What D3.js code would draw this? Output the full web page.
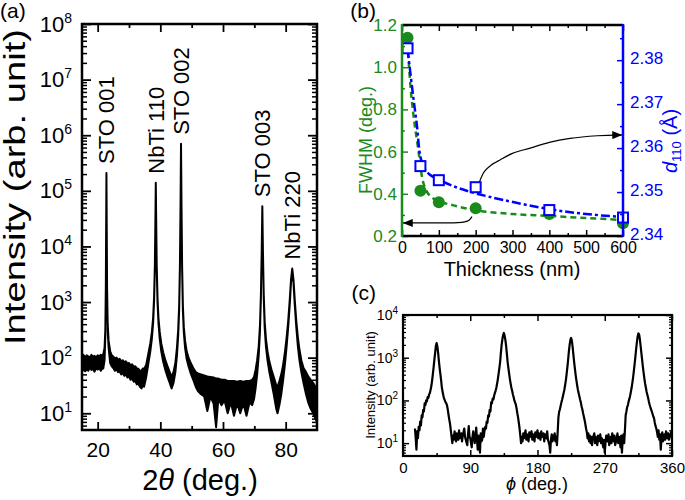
<!DOCTYPE html>
<html>
<head>
<meta charset="utf-8">
<script src="https://cdnjs.cloudflare.com/ajax/libs/d3/7.8.5/d3.min.js"></script>
<style>
body { margin: 0; background: #fff; }
text { font-family: "Liberation Sans", Arial, sans-serif; }
</style>
</head>
<body>
<div id="wrapper"></div>
<script>
// ---------- (a) XRD theta-2theta scan: noisy trace kept as low / high envelope ----------
const xrdTheta = [
  15, 15.5, 16, 16.5, 17, 17.5, 18, 18.5, 19, 19.5, 20, 20.5, 21, 21.5, 21.8,
  22.2, 22.45, 22.6, 22.72, 22.8, 22.88, 23.0, 23.2, 23.5, 24.0, 24.5,
  25, 25.5, 26, 26.5, 27, 27.5, 28, 28.5, 29, 29.5, 30, 30.5, 31, 31.5, 32, 32.5, 33, 33.5, 34, 34.4, 34.8,
  35.5, 36.2, 36.8, 37.3, 37.7, 38.0, 38.25, 38.45, 38.55, 38.65, 38.85, 39.1, 39.4, 39.8, 40.3, 40.9, 41.6, 42.3, 43.0, 43.6,
  44.2, 44.8, 45.3, 45.7, 46.0, 46.25, 46.45, 46.6, 46.75, 46.95, 47.2, 47.5, 47.9, 48.4, 49.0, 49.7, 50.5, 51.3,
  52, 53, 54, 55, 56, 57, 57.8, 58.5, 59.5, 60.5, 61.5, 62.5, 63.5, 64.5, 65.5, 66.5, 67.5, 68.5, 69.3, 69.9,
  70.4, 70.9, 71.4, 71.8, 72.1, 72.35, 72.55, 72.75, 73.0, 73.3, 73.7, 74.2, 74.8, 75.5, 76.2, 77.0, 77.4,
  78.0, 78.6, 79.2, 79.8, 80.3, 80.8, 81.3, 81.7, 82.1, 82.5, 82.9, 83.4, 83.9, 84.4, 85.0, 85.7, 86.5, 87.3, 88.0, 88.8, 89.5, 90
];
const xrdLo = [
  60, 66, 57, 64, 58, 67, 60, 63, 56, 65, 61, 66, 58, 64, 64,
  90, 250, 1500, 30000, 210000, 30000, 1500, 300, 150, 80, 70,
  65, 58, 62, 55, 57, 50, 53, 47, 50, 44, 46, 40, 42, 37, 38, 33, 34, 30, 28, 32, 30,
  45, 80, 130, 220, 420, 1000, 4000, 40000, 140000, 40000, 4000, 1000, 420, 220, 130, 85, 60, 45, 35, 28,
  35, 55, 110, 250, 700, 4000, 60000, 700000, 60000, 4000, 700, 280, 150, 95, 70, 52, 40, 30,
  25, 22, 20, 11, 20, 15, 5.6, 18, 14, 17, 10, 16, 9, 15, 10, 15, 9, 16, 14, 18,
  28, 50, 110, 300, 1200, 8000, 53000, 8000, 1200, 350, 160, 90, 55, 35, 22, 12, 10,
  14, 22, 40, 80, 160, 350, 900, 2200, 4000, 2200, 900, 350, 160, 90, 55, 35, 22, 15, 12, 10, 8, 7
];
const xrdHi = [
  104, 112, 100, 110, 106, 98, 112, 104, 108, 100, 110, 104, 113, 106, 115,
  150, 320, 1800, 30000, 210000, 30000, 1800, 400, 200, 130, 110,
  105, 96, 100, 92, 95, 86, 90, 82, 86, 78, 80, 72, 76, 68, 70, 64, 63, 58, 58, 64, 62,
  75, 120, 180, 290, 520, 1200, 4500, 40000, 140000, 40000, 4500, 1200, 520, 290, 180, 125, 90, 70, 55, 45,
  55, 80, 150, 320, 850, 4500, 60000, 700000, 60000, 4500, 850, 350, 200, 130, 100, 80, 65, 55,
  52, 50, 48, 46, 45, 44, 42, 42, 40, 40, 38, 38, 38, 37, 38, 37, 38, 38, 40, 45,
  60, 90, 160, 380, 1400, 8000, 53000, 8000, 1400, 450, 220, 130, 85, 60, 45, 32, 30,
  38, 50, 75, 130, 230, 450, 1100, 2500, 4000, 2500, 1100, 450, 230, 140, 90, 65, 55, 45, 40, 35, 30, 28
];
const peakNames = ["STO 001", "NbTi 110", "STO 002", "STO 003", "NbTi 220"];
const peakTheta = [22.8, 38.55, 46.6, 72.55, 82.1];
const peakTop = [2.1e5, 1.4e5, 7e5, 5.3e4, 4e3];
const thetaTicks = [20, 40, 60, 80];
const thetaMinor = [30, 50, 70];
const decadesA = [1e1, 1e2, 1e3, 1e4, 1e5, 1e6, 1e7, 1e8];

// ---------- (b) FWHM and d110 versus film thickness ----------
const thickness = [15, 50, 100, 200, 400, 600];
const fwhm = [1.14, 0.415, 0.36, 0.331, 0.304, 0.26];
const d110 = [2.3827, 2.3559, 2.3527, 2.3511, 2.3459, 2.3442];
const fwhmFitT = [15, 20, 25, 30, 35, 40, 45, 50, 55, 62, 76, 100, 140, 200, 300, 400, 500, 600];
const fwhmFitV = [1.12, 0.98, 0.87, 0.79, 0.72, 0.66, 0.6, 0.53, 0.475, 0.43, 0.39, 0.365, 0.345, 0.322, 0.304, 0.295, 0.285, 0.276];
const dFitT = [15, 20, 30, 40, 50, 60, 75, 100, 150, 200, 275, 400, 500, 600];
const dFitV = [2.3825, 2.379, 2.372, 2.3655, 2.358, 2.3555, 2.354, 2.3528, 2.351, 2.3497, 2.3482, 2.3461, 2.345, 2.3443];
const arrowLowT = [190, 182, 170, 150, 120, 60, 2];
const arrowLowV = [0.292, 0.275, 0.267, 0.263, 0.262, 0.262, 0.262];
const arrowUpT = [210, 216, 225, 240, 266, 300, 348, 400, 456, 530, 598];
const arrowUpV = [2.3522, 2.3535, 2.3548, 2.356, 2.3573, 2.3588, 2.36, 2.3613, 2.3622, 2.3628, 2.363];
const thickTicks = [0, 100, 200, 300, 400, 500, 600];
const thickMinor = [50, 150, 250, 350, 450, 550];
const fwhmTicks = [0.2, 0.4, 0.6, 0.8, 1.0, 1.2];
const fwhmMinor = [0.3, 0.5, 0.7, 0.9, 1.1];
const dTicks = [2.34, 2.35, 2.36, 2.37, 2.38];
const dMinor = [2.345, 2.355, 2.365, 2.375, 2.385];

// ---------- (c) phi scan ----------
const phiDeg = [
  16, 17, 18, 19, 20, 21, 22, 23, 24, 25,
  26, 27, 28, 29, 30, 31, 32, 33, 34, 35,
  36, 37, 38, 39, 40, 41, 42, 43, 44, 45,
  46, 47, 48, 49, 50, 51, 52, 53, 54, 55,
  56, 57, 58, 59, 60, 61, 62, 63, 64, 65, 66,
  67, 68, 69, 70, 71, 72, 74, 75, 76, 78,
  79, 80, 82, 83, 84, 86, 87, 88, 89, 90,
  92, 93, 94, 96, 97, 98, 99, 100, 101, 102,
  103, 104, 105, 106, 107, 108, 109, 110,
  111, 112, 113, 114, 115, 116, 117, 118, 119, 120,
  121, 122, 123, 124, 125, 126, 127, 128, 129, 130,
  131, 132, 133, 134, 135, 136, 137, 138, 139, 140,
  141, 142, 143, 144, 145, 146, 147, 148, 149, 150,
  151, 152, 153, 154, 155, 156, 157, 158, 159,
  160, 161, 162, 164, 165, 166, 168, 169, 170, 172,
  173, 174, 176, 177, 178, 180, 181, 182, 184, 185,
  186, 188, 189, 190, 192, 193, 194, 196, 197, 198,
  199, 200, 201, 202, 203, 204,
  205, 206, 207, 208, 209, 210, 211, 212, 213, 214,
  215, 216, 217, 218, 219, 220, 221, 222, 223, 224,
  225, 226, 227, 228, 229, 230, 231, 232, 233, 234,
  235, 236, 237, 238, 239, 240, 241, 242, 243, 244,
  245, 246, 247, 248, 249, 250,
  251, 252, 253, 254, 256, 257, 258, 260, 261, 262,
  264, 265, 266, 268, 269, 270, 271, 272, 274, 275,
  276, 278, 279, 280, 282, 283, 284, 286, 287, 288, 289,
  290, 291, 292, 293, 294, 295, 296, 297, 298, 299,
  300, 301, 302, 303, 304, 305, 306, 307, 308, 309,
  310, 311, 312, 313, 314, 315, 316, 317, 318, 319,
  320, 321, 322, 323, 324, 325, 326, 327, 328, 329,
  330, 331, 332, 333, 334, 335, 336, 337, 338, 339,
  340, 341, 342, 343, 344, 345, 346, 347, 348, 350,
  351, 352, 354, 355, 356, 358, 359
];
const phiInt = [
  22, 13, 7, 19, 13, 24, 20, 32, 26, 45,
  40, 60, 55, 85, 78, 100, 95, 120, 115, 140,
  150, 180, 220, 300, 420, 600, 900, 1300, 1900, 2200,
  1850, 1300, 850, 580, 420, 300, 200, 160, 130, 110,
  100, 90, 85, 75, 60, 45, 35, 28, 20, 14, 10,
  15, 12, 19, 14, 11, 17, 12, 20, 13, 17,
  11, 15, 22, 14, 12, 9, 16, 25, 14, 13,
  8, 14, 19, 10, 15, 23, 12, 7, 15, 10,
  6, 17, 11, 12, 22, 14, 19, 24,
  22, 32, 30, 45, 42, 60, 55, 90, 85, 110,
  105, 130, 150, 170, 200, 250, 320, 430, 580, 800,
  1300, 2000, 2700, 3400, 3800, 3300, 2600, 1900, 1250, 800,
  580, 430, 320, 250, 200, 170, 140, 120, 100, 90,
  80, 65, 50, 40, 30, 22, 15, 10, 14,
  11, 17, 13, 20, 12, 16, 11, 18, 14, 19,
  12, 16, 11, 18, 14, 20, 13, 17, 12, 19,
  14, 17, 11, 16, 13, 19, 12, 9, 6, 12,
  16, 11, 15, 12, 17, 11,
  14, 9, 18, 40, 55, 62, 75, 90, 105, 125,
  150, 180, 230, 300, 420, 600, 900, 1400, 2000, 2600,
  2900, 2500, 1800, 1200, 800, 560, 400, 300, 230, 180,
  150, 125, 105, 90, 72, 62, 50, 42, 35, 28,
  22, 18, 13, 17, 11, 15,
  10, 14, 9, 13, 17, 10, 14, 9, 15, 11,
  16, 10, 13, 8, 12, 6, 10, 15, 11, 16,
  9, 14, 10, 17, 11, 15, 9, 13, 17, 10, 14,
  13, 8, 15, 6, 12, 16, 10, 20, 45, 55,
  70, 78, 95, 110, 130, 160, 200, 260, 350, 500,
  720, 1050, 1600, 2300, 3100, 3700, 3500, 2700, 1900, 1300,
  900, 620, 450, 330, 250, 200, 160, 135, 115, 95,
  80, 70, 62, 55, 48, 42, 38, 30, 25, 22,
  18, 14, 20, 12, 16, 7, 14, 18, 11, 16,
  12, 19, 13, 17, 12, 16, 19
];
const phiTicks = [0, 90, 180, 270, 360];
const phiMinor = [45, 135, 225, 315];
const decadesC = [1e1, 1e2, 1e3, 1e4];

const GREEN = "#1a8a1a";
const BLUE = "#0000ff";

const svg = d3.select("#wrapper").append("svg")
    .attr("width", 685)
    .attr("height", 500);

const defs = svg.append("defs");
defs.append("marker")
    .attr("id", "head")
    .attr("markerUnits", "userSpaceOnUse")
    .attr("markerWidth", 11).attr("markerHeight", 8)
    .attr("refX", 10).attr("refY", 4)
    .attr("orient", "auto")
  .append("path")
    .attr("d", "M0,0L10,4L0,8Z")
    .attr("fill", "#000");

// ticks only (inward), drawn with d3 axes; domain path removed
function ticks(axis, transform, color, width) {
    const g = svg.append("g")
        .attr("transform", transform)
        .call(axis);
    g.select(".domain").remove();
    g.selectAll(".tick line").attr("stroke", color).attr("stroke-width", width);
    return g;
}

function styleLabels(g, size, color) {
    g.attr("font-family", null).attr("font-size", null);
    g.selectAll(".tick text")
        .attr("font-size", size)
        .attr("fill", color);
}

// log labels as 10 with a superscript exponent
function powerLabels(g, size, supSize, sup) {
    g.attr("font-family", null).attr("font-size", null);
    g.selectAll(".tick text").each(function (d) {
        const t = d3.select(this).text(null).attr("font-size", size).attr("fill", "#000");
        t.append("tspan").text("10");
        t.append("tspan").attr("font-size", supSize).attr("dy", -sup)
            .text(Math.round(Math.log10(d)));
    });
}

// ================= panel (a) =================
const xA = d3.scaleLinear().domain([15, 90]).range([82, 317]);
const yA = d3.scaleLog().domain([5, 1e8]).range([430, 24]);
const minorA = yA.ticks().filter(v => !decadesA.includes(v) && v > 5);

const idxA = d3.range(xrdTheta.length);
svg.append("path")
    .attr("d", d3.area()
        .x(i => xA(xrdTheta[i]))
        .y0(i => yA(xrdLo[i]))
        .y1(i => yA(xrdHi[i]))(idxA))
    .attr("fill", "#000")
    .attr("stroke", "#000")
    .attr("stroke-width", 2)
    .attr("stroke-linejoin", "round");

ticks(d3.axisBottom(xA).tickValues(thetaMinor).tickSize(-4).tickFormat(""), "translate(0,430)", "#000", 1.8);
ticks(d3.axisTop(xA).tickValues(thetaMinor).tickSize(-4).tickFormat(""), "translate(0,24)", "#000", 1.8);
ticks(d3.axisTop(xA).tickValues(thetaTicks).tickSize(-8).tickFormat(""), "translate(0,24)", "#000", 1.8);
const gAx = ticks(d3.axisBottom(xA).tickValues(thetaTicks).tickSize(-8).tickPadding(12).tickFormat(d3.format("d")), "translate(0,430)", "#000", 1.8);
styleLabels(gAx, 21, "#000");

ticks(d3.axisLeft(yA).tickValues(minorA).tickSize(-5).tickFormat(""), "translate(82,0)", "#000", 1.5);
ticks(d3.axisRight(yA).tickValues(minorA).tickSize(-5).tickFormat(""), "translate(317,0)", "#000", 1.5);
ticks(d3.axisRight(yA).tickValues(decadesA).tickSize(-9).tickFormat(""), "translate(317,0)", "#000", 1.8);
const gAy = ticks(d3.axisLeft(yA).tickValues(decadesA).tickSize(-9).tickPadding(10), "translate(82,0)", "#000", 1.8);
powerLabels(gAy, 22, 14, 9);

svg.append("rect")
    .attr("x", 82).attr("y", 24).attr("width", 235).attr("height", 406)
    .attr("fill", "none").attr("stroke", "#000").attr("stroke-width", 2.5);

peakNames.forEach((name, i) => {
    const x = xA(peakTheta[i]), y = yA(peakTop[i]) - 9;
    svg.append("text")
        .attr("transform", `translate(${x},${y}) rotate(-90)`)
        .attr("dy", "0.36em")
        .attr("font-size", 22)
        .text(name);
});

svg.append("text")
    .attr("transform", "translate(25,187) rotate(-90)")
    .attr("text-anchor", "middle")
    .attr("font-size", 29)
    .attr("textLength", 316)
    .attr("lengthAdjust", "spacingAndGlyphs")
    .text("Intensity (arb. unit)");

const tA = svg.append("text")
    .attr("x", 200).attr("y", 490)
    .attr("text-anchor", "middle")
    .attr("font-size", 29);
tA.append("tspan").text("2");
tA.append("tspan").attr("font-style", "italic").text("θ");
tA.append("tspan").text(" (deg.)");

svg.append("text").attr("x", 0).attr("y", 18).attr("font-size", 21).text("(a)");

// ================= panel (b) =================
const xB = d3.scaleLinear().domain([0, 600]).range([402, 623]);
const yB = d3.scaleLinear().domain([0.2, 1.2]).range([236, 25]);
const yB2 = d3.scaleLinear().domain([2.34, 2.388]).range([236, 25]);

svg.append("path")
    .attr("d", d3.line().x((d, i) => xB(fwhmFitT[i])).y(d => yB(d)).curve(d3.curveCatmullRom)(fwhmFitV))
    .attr("fill", "none").attr("stroke", GREEN).attr("stroke-width", 2.5)
    .attr("stroke-dasharray", "6,4");
svg.append("path")
    .attr("d", d3.line().x((d, i) => xB(dFitT[i])).y(d => yB2(d)).curve(d3.curveCatmullRom)(dFitV))
    .attr("fill", "none").attr("stroke", BLUE).attr("stroke-width", 2.5)
    .attr("stroke-dasharray", "9,3,3,3");

svg.append("path")
    .attr("d", d3.line().x((d, i) => xB(arrowLowT[i])).y(d => yB(d)).curve(d3.curveCatmullRom)(arrowLowV))
    .attr("fill", "none").attr("stroke", "#000").attr("stroke-width", 1.2)
    .attr("marker-end", "url(#head)");
svg.append("path")
    .attr("d", d3.line().x((d, i) => xB(arrowUpT[i])).y(d => yB2(d)).curve(d3.curveCatmullRom)(arrowUpV))
    .attr("fill", "none").attr("stroke", "#000").attr("stroke-width", 1.2)
    .attr("marker-end", "url(#head)");

svg.selectAll(".fwhmDot")
    .data(fwhm)
    .join("circle")
    .attr("cx", (d, i) => xB(thickness[i]))
    .attr("cy", d => yB(d))
    .attr("r", 6)
    .attr("fill", GREEN);

svg.selectAll(".dSq")
    .data(d110)
    .join("rect")
    .attr("x", (d, i) => xB(thickness[i]) - 5)
    .attr("y", d => yB2(d) - 5)
    .attr("width", 10).attr("height", 10)
    .attr("fill", "#fff")
    .attr("stroke", BLUE)
    .attr("stroke-width", 2);

ticks(d3.axisTop(xB).tickValues(thickMinor).tickSize(-3).tickFormat(""), "translate(0,25)", "#000", 1.5);
ticks(d3.axisTop(xB).tickValues(thickTicks).tickSize(-6).tickFormat(""), "translate(0,25)", "#000", 1.5);
ticks(d3.axisBottom(xB).tickValues(thickMinor).tickSize(-3).tickFormat(""), "translate(0,236)", "#000", 1.5);
const gBx = ticks(d3.axisBottom(xB).tickValues(thickTicks).tickSize(-6).tickPadding(6).tickFormat(d3.format("d")), "translate(0,236)", "#000", 1.5);
styleLabels(gBx, 16, "#000");

ticks(d3.axisLeft(yB).tickValues(fwhmMinor).tickSize(-3).tickFormat(""), "translate(402,0)", GREEN, 1.5);
const gBy = ticks(d3.axisLeft(yB).tickValues(fwhmTicks).tickSize(-6).tickPadding(5).tickFormat(d3.format(".1f")), "translate(402,0)", GREEN, 1.5);
styleLabels(gBy, 17, GREEN);

ticks(d3.axisRight(yB2).tickValues(dMinor).tickSize(-3).tickFormat(""), "translate(623,0)", BLUE, 1.5);
const gBy2 = ticks(d3.axisRight(yB2).tickValues(dTicks).tickSize(-6).tickPadding(7).tickFormat(d3.format(".2f")), "translate(623,0)", BLUE, 1.5);
styleLabels(gBy2, 17, BLUE);
gBy2.selectAll(".tick text").attr("dy", "0.22em");

svg.append("line").attr("x1", 402).attr("x2", 623).attr("y1", 25).attr("y2", 25).attr("stroke", "#000").attr("stroke-width", 2.5);
svg.append("line").attr("x1", 402).attr("x2", 623).attr("y1", 236).attr("y2", 236).attr("stroke", "#000").attr("stroke-width", 2.5);
svg.append("line").attr("x1", 402).attr("x2", 402).attr("y1", 24).attr("y2", 237).attr("stroke", GREEN).attr("stroke-width", 2.5);
svg.append("line").attr("x1", 623).attr("x2", 623).attr("y1", 24).attr("y2", 237).attr("stroke", BLUE).attr("stroke-width", 2.5);

svg.append("text")
    .attr("transform", "translate(372,140) rotate(-90)")
    .attr("text-anchor", "middle")
    .attr("font-size", 18)
    .attr("fill", GREEN)
    .text("FWHM (deg.)");

const tD = svg.append("text")
    .attr("transform", "translate(677,141) rotate(-90)")
    .attr("text-anchor", "middle")
    .attr("font-size", 20)
    .attr("fill", BLUE);
tD.append("tspan").attr("font-style", "italic").text("d");
tD.append("tspan").attr("font-size", 13).attr("dy", 4).text("110");
tD.append("tspan").attr("dy", -4).text(" (Å)");

svg.append("text")
    .attr("x", 512).attr("y", 276)
    .attr("text-anchor", "middle")
    .attr("font-size", 20)
    .text("Thickness (nm)");

svg.append("text").attr("x", 376).attr("y", 18).attr("text-anchor", "end").attr("font-size", 21).text("(b)");

// ================= panel (c) =================
const xC = d3.scaleLinear().domain([0, 360]).range([403, 672]);
const yC = d3.scaleLog().domain([5, 1e4]).range([456, 315]);
const minorC = yC.ticks().filter(v => !decadesC.includes(v) && v > 5);

svg.append("path")
    .attr("d", d3.line().x((d, i) => xC(phiDeg[i])).y(d => yC(d))(phiInt))
    .attr("fill", "none")
    .attr("stroke", "#000")
    .attr("stroke-width", 2.2)
    .attr("stroke-linejoin", "round");

ticks(d3.axisTop(xC).tickValues(phiMinor).tickSize(-3).tickFormat(""), "translate(0,315)", "#000", 1.5);
ticks(d3.axisTop(xC).tickValues(phiTicks).tickSize(-6).tickFormat(""), "translate(0,315)", "#000", 1.5);
ticks(d3.axisBottom(xC).tickValues(phiMinor).tickSize(-3).tickFormat(""), "translate(0,456)", "#000", 1.5);
const gCx = ticks(d3.axisBottom(xC).tickValues(phiTicks).tickSize(-6).tickPadding(6).tickFormat(d3.format("d")), "translate(0,456)", "#000", 1.5);
styleLabels(gCx, 15, "#000");

ticks(d3.axisLeft(yC).tickValues(minorC).tickSize(-3).tickFormat(""), "translate(403,0)", "#000", 1.2);
ticks(d3.axisRight(yC).tickValues(minorC).tickSize(-3).tickFormat(""), "translate(672,0)", "#000", 1.2);
ticks(d3.axisRight(yC).tickValues(decadesC).tickSize(-6).tickFormat(""), "translate(672,0)", "#000", 1.5);
const gCy = ticks(d3.axisLeft(yC).tickValues(decadesC).tickSize(-6).tickPadding(5), "translate(403,0)", "#000", 1.5);
powerLabels(gCy, 14, 10, 6);

svg.append("rect")
    .attr("x", 403).attr("y", 315).attr("width", 269).attr("height", 141)
    .attr("fill", "none").attr("stroke", "#000").attr("stroke-width", 2.2);

svg.append("text")
    .attr("transform", "translate(375,385) rotate(-90)")
    .attr("text-anchor", "middle")
    .attr("font-size", 13)
    .text("Intensity (arb. unit)");

const tC = svg.append("text")
    .attr("x", 537).attr("y", 490)
    .attr("text-anchor", "middle")
    .attr("font-size", 18);
tC.append("tspan").attr("font-style", "italic").text("ϕ");
tC.append("tspan").text(" (deg.)");

svg.append("text").attr("x", 376).attr("y", 300).attr("text-anchor", "end").attr("font-size", 21).text("(c)");
</script>
</body>
</html>
